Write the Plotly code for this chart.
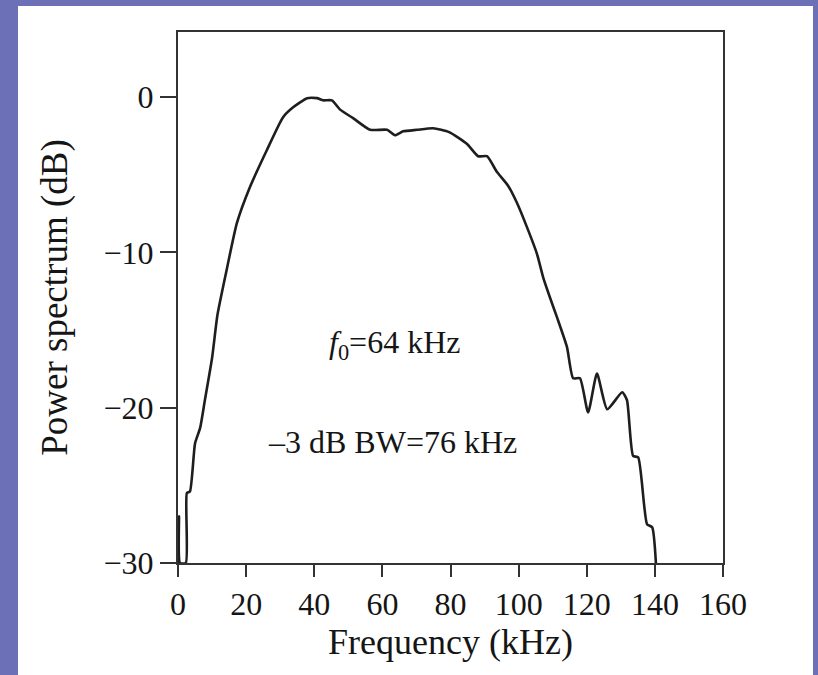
import plotly.graph_objects as go

# Data
freq_khz = [0.0, 0.3, 0.6, 2.3, 2.6, 3.5, 5.0, 6.5, 7.9, 10.0, 11.6, 14.4, 17.3, 21.1,
            26.1, 30.8, 33.8, 37.9, 40.8, 42.6, 45.2, 47.6, 51.4, 56.4, 61.4, 63.7,
            66.1, 70.2, 74.9, 79.6, 84.8, 88.1, 90.7, 93.6, 96.9, 99.5, 102.5, 105.4,
            107.2, 109.2, 111.3, 114.2, 116.0, 118.0, 120.4, 123.0, 126.0, 130.4,
            131.8, 133.6, 135.1, 137.7, 139.2, 140.3]
power_db = [-30.0, -27.0, -30.0, -30.0, -25.5, -25.4, -22.3, -21.3, -19.5, -16.8, -14.0,
            -11.0, -8.1, -5.8, -3.4, -1.3, -0.65, -0.06, -0.06, -0.2, -0.2, -0.8, -1.35,
            -2.1, -2.1, -2.45, -2.2, -2.1, -2.0, -2.25, -3.0, -3.8, -3.8, -4.8, -5.7,
            -6.8, -8.4, -10.1, -11.6, -12.9, -14.2, -16.1, -18.1, -18.1, -20.3, -17.8,
            -20.1, -19.0, -19.5, -23.1, -23.2, -27.5, -27.7, -30.0]

x_ticks = [0, 20, 40, 60, 80, 100, 120, 140, 160]
y_ticks = [0, -10, -20, -30]

FONT = "Liberation Serif, Times New Roman, serif"
INK = "#151515"

fig = go.Figure()
fig.add_trace(go.Scatter(
    x=freq_khz, y=power_db, mode="lines",
    line=dict(color="#1e1e1e", width=2.6, shape="spline", smoothing=0.55),
    showlegend=False, hoverinfo="skip",
))

fig.add_annotation(x=63.7, y=-15.9, xref="x", yref="y",
                   text="<i>f</i><sub>0</sub>=64 kHz", showarrow=False,
                   font=dict(family=FONT, size=32, color=INK))
fig.add_annotation(x=63.1, y=-22.2, xref="x", yref="y",
                   text="\u20133 dB BW=76 kHz", showarrow=False,
                   font=dict(family=FONT, size=32, color=INK))

# white panel over the purple page background
fig.add_shape(type="rect", xref="paper", yref="paper",
              x0=(18 - 178) / 545, x1=(813 - 178) / 545,
              y0=(563 - 676) / 531, y1=(563 - 6) / 531,
              fillcolor="white", line=dict(width=0), layer="below")

fig.update_xaxes(range=[0, 160], tickvals=x_ticks, ticks="outside", ticklen=12,
                 tickwidth=2, tickcolor="#333333", showline=True, linewidth=2,
                 linecolor="#333333", mirror=True, showgrid=False, zeroline=False,
                 tickfont=dict(family=FONT, size=32, color=INK),
                 title=dict(text="Frequency (kHz)", standoff=7,
                            font=dict(family=FONT, size=36, color=INK)))
fig.update_yaxes(range=[-30, 4.2], tickvals=y_ticks, ticks="outside", ticklen=16,
                 tickwidth=2, tickcolor="#333333", showline=True, linewidth=2,
                 linecolor="#333333", mirror=True, showgrid=False, zeroline=False,
                 tickfont=dict(family=FONT, size=32, color=INK),
                 title=dict(text="Power spectrum (dB)", standoff=25,
                            font=dict(family=FONT, size=37, color=INK)))

fig.update_layout(
    width=818, height=675,
    margin=dict(l=178, r=95, t=32, b=112),
    paper_bgcolor="#6c70b6", plot_bgcolor="white",
)

fig.write_html("out.html")
